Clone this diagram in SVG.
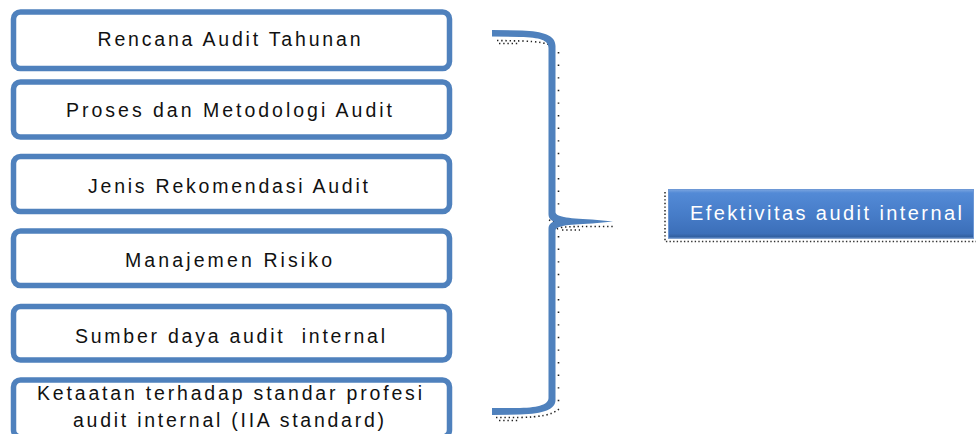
<svg xmlns="http://www.w3.org/2000/svg" width="976" height="434" viewBox="0 0 976 434">
  <defs>
    <linearGradient id="blueGrad" x1="0" y1="0" x2="0" y2="1">
      <stop offset="0" stop-color="#7fa8e0"/>
      <stop offset="0.08" stop-color="#538ad6"/>
      <stop offset="0.5" stop-color="#477dc9"/>
      <stop offset="0.9" stop-color="#3c6fb9"/>
      <stop offset="1" stop-color="#2e5893"/>
    </linearGradient>
    <style>
      .box { fill: #ffffff; stroke: #4f81bd; stroke-width: 5.5; }
      .lbl { font-family: "Liberation Sans", Arial, sans-serif; font-size: 19.5px; fill: #111111; text-anchor: middle; }
      .wlbl { font-family: "Liberation Sans", Arial, sans-serif; font-size: 20px; fill: #ffffff; text-anchor: middle; }
      .brace { fill: #4f81bd; }
      .dense { fill: none; stroke: #222222; stroke-width: 1.6; stroke-dasharray: 1.4 2.8; }
      .sparse { fill: none; stroke: #222222; stroke-width: 1.6; stroke-dasharray: 1.4 11.2; }
      .boxdots { fill: none; stroke: #333333; stroke-width: 1.6; stroke-dasharray: 1.4 2.2; }
    </style>
  </defs>

  <g id="node-rencana">
    <rect class="box" x="13.5" y="12" width="436" height="56.5" rx="7"/>
    <text class="lbl" x="229" y="46" textLength="263" lengthAdjust="spacing">Rencana Audit Tahunan</text>
  </g>
  <g id="node-proses">
    <rect class="box" x="13.5" y="82" width="436" height="55" rx="7"/>
    <text class="lbl" x="229" y="116.5" textLength="326" lengthAdjust="spacing">Proses dan Metodologi Audit</text>
  </g>
  <g id="node-jenis">
    <rect class="box" x="13.5" y="156.5" width="436" height="55" rx="7"/>
    <text class="lbl" x="228" y="192.5" textLength="280" lengthAdjust="spacing">Jenis Rekomendasi Audit</text>
  </g>
  <g id="node-manajemen">
    <rect class="box" x="13.5" y="231" width="436" height="54.5" rx="7"/>
    <text class="lbl" x="228.5" y="266.5" textLength="207" lengthAdjust="spacing">Manajemen Risiko</text>
  </g>
  <g id="node-sumber">
    <rect class="box" x="13.5" y="306.5" width="436" height="53.5" rx="7"/>
    <text class="lbl" x="230" y="342.5" textLength="310" lengthAdjust="spacing" xml:space="preserve">Sumber daya audit  internal</text>
  </g>
  <g id="node-ketaatan">
    <rect class="box" x="13.5" y="380" width="436" height="57" rx="7"/>
    <text class="lbl" x="229.5" y="399.5" textLength="385" lengthAdjust="spacing">Ketaatan terhadap standar profesi</text>
    <text class="lbl" x="228.5" y="426.5" textLength="311" lengthAdjust="spacing">audit internal (IIA standard)</text>
  </g>

  <g id="connectors">
    <path class="dense" d="M497,40.5 L522,41 C538,41.5 548,43 553,47"/>
    <path class="dense" d="M499,43.5 L520,43.5"/>
    <path class="sparse" d="M558.5,52 L558.5,214"/>
    <path class="dense" d="M549,220 L554,222"/>
    <path class="dense" d="M557,229 C560,227 566,226.5 590,226.5 L613,226.5"/>
    <path class="dense" d="M562,230 L580,230"/>
    <path class="sparse" d="M558.5,236 L558.5,406"/>
    <path class="dense" d="M496,417.5 L520,417.5 C540,417 552,415 559,409"/>
    <path class="dense" d="M499,420.5 L520,420.5"/>
    <path class="brace" d="M492,30 L522,30.5 C543,31.5 555.5,35 555.5,46 L555.5,212 C555.5,216.5 566,218.5 592,219.5 L613,221.5 L592,223.5 C566,224.5 555.5,226 555.5,231 L555.5,400 C555.5,409 544,414 520,414.5 L492,415 L492,408 L520,408 C540,407.5 548.5,404 548.5,398 L548.5,229 C548.5,224.5 551,222.5 554,221.5 C551,220.5 548.5,218.5 548.5,214 L548.5,48 C548.5,40 540,37.5 520,37 L492,36.5 Z"/>
  </g>

  <g id="node-efektivitas">
    <path class="boxdots" d="M665,192 L665,241.5 L976,241.5"/>
    <rect x="668" y="189" width="306" height="49.5" fill="url(#blueGrad)"/>
    <rect x="668.5" y="189.5" width="305" height="48.5" fill="none" stroke="#6d98d6" stroke-width="1"/>
    <text class="wlbl" x="826" y="220" textLength="272" lengthAdjust="spacing">Efektivitas audit internal</text>
  </g>
</svg>
